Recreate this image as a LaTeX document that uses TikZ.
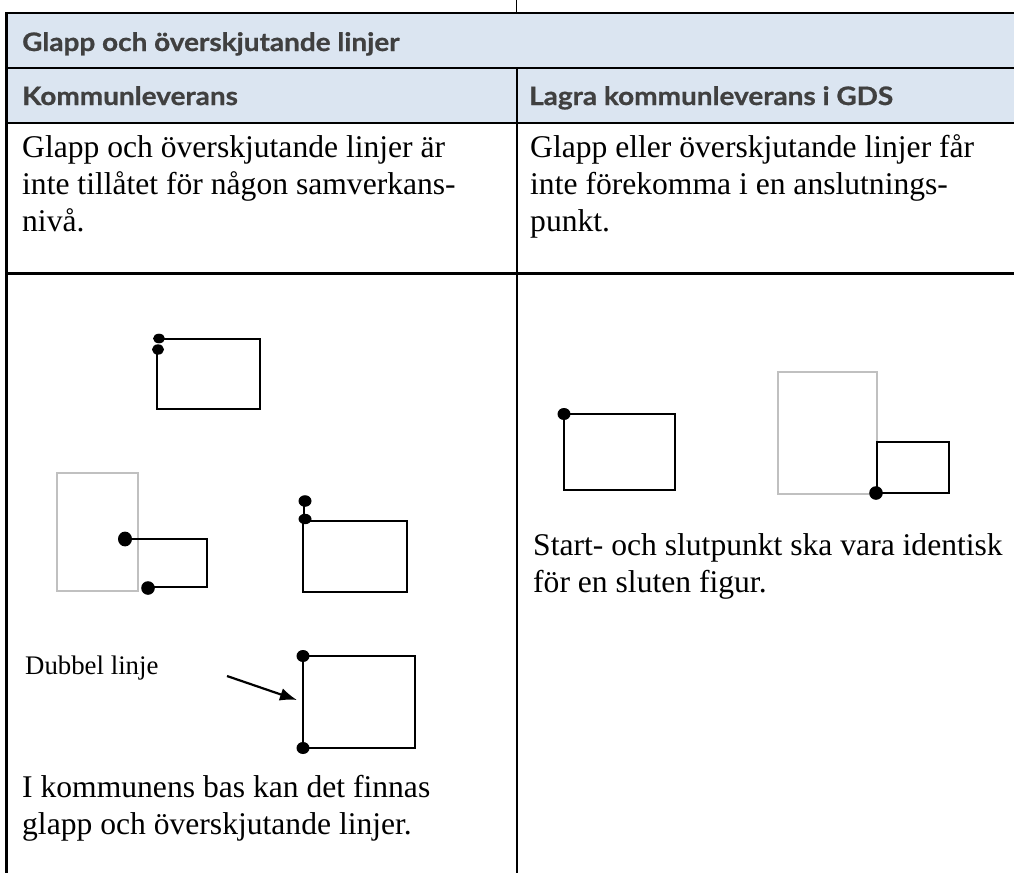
\documentclass[tikz,border=0pt]{standalone}
\usepackage{fontspec}
\setmainfont{Liberation Serif}
\newfontfamily\hdrfont{Lato}[FakeStretch=1.1,BoldFeatures={FakeBold=0.8}]
\usetikzlibrary{arrows.meta}
\definecolor{hdrfill}{HTML}{DBE5F1}
\definecolor{hdrtext}{HTML}{404040}
\definecolor{ghost}{HTML}{C0C0C0}
\begin{document}
\begin{tikzpicture}[x=1pt,y=-1pt,
  hdr/.style={anchor=base west, inner sep=0pt, text=hdrtext,
    font=\hdrfont\bfseries\fontsize{25.4}{30}\selectfont},
  body/.style={anchor=base west, inner sep=0pt,
    font=\fontsize{31.6}{37}\selectfont},
  small/.style={anchor=base west, inner sep=0pt,
    font=\fontsize{26.8}{31}\selectfont},
  thinrule/.style={line width=1.4pt},
  thickrule/.style={line width=2.6pt},
  outline/.style={line width=2.2pt, line join=miter, line cap=rect},
  ghostbox/.style={draw=ghost, line width=2.2pt},
  pointer/.style={line width=2.2pt, -{Latex[length=17pt,width=13pt]}}
]
\useasboundingbox (0,0) rectangle (1014,873);
% header fills
\fill[hdrfill] (6,13) rectangle (1014,123);
% table rules
\draw[thinrule] (516.5,0) -- (516.5,13);
\draw[thinrule] (5.5,13) -- (1014,13);
\draw[thinrule] (6,68) -- (1014,68);
\draw[thickrule] (6,123) -- (1014,123);
\draw[thickrule] (6,273.5) -- (1014,273.5);
\draw[line width=2pt] (516.5,68) -- (516.5,873);
\draw[thickrule] (6.5,12.3) -- (6.5,873);
% header texts
\node[hdr] (title) at (22,51) {Glapp och överskjutande linjer};
\node[hdr] (colA) at (22,105) {Kommunleverans};
\node[hdr] (colB) at (529,105) {Lagra kommunleverans i GDS};
% body texts row 1
\node[body] (a1) at (22,157) {Glapp och överskjutande linjer är};
\node[body] (a2) at (22,194) {inte tillåtet för någon samverkans-};
\node[body] (a3) at (22,231) {nivå.};
\node[body] (b1) at (530,157) {Glapp eller överskjutande linjer får};
\node[body] (b2) at (530,194) {inte förekomma i en anslutnings-};
\node[body] (b3) at (530,231) {punkt.};
% left figure: rect with gap at corner
\draw[outline] (159,339) -- (260,339) -- (260,409) -- (157,409) -- (157,349);
\fill (159,338.5) ellipse [x radius=6, y radius=4.8];
\fill (158,349.5) ellipse [x radius=6, y radius=5.2];
% gray box with overlapping shape
\draw[ghostbox] (57,473) rectangle (138,591);
\draw[outline] (125,539) -- (207,539) -- (207,587) -- (148,587);
\fill (125,539) ellipse [x radius=7, y radius=7.4];
\fill (148,588) ellipse [x radius=6.8, y radius=6.8];
% rect with overshoot
\draw[outline] (304,501) -- (304,521);
\draw[outline] (303,521) rectangle (407,592);
\fill (305,501) ellipse [x radius=6.5, y radius=5.8];
\fill (305,519) ellipse [x radius=6.5, y radius=5.2];
% double line
\node[small] (dbl) at (25,674) {Dubbel linje};
\coordinate (arrS) at (227,676);
\coordinate (arrE) at (297,700);
\draw[pointer] (arrS) -- (arrE);
\draw[outline] (303,656) rectangle (415,748);
\fill (303,656) ellipse [x radius=6.5, y radius=6];
\fill (303,748) ellipse [x radius=6.5, y radius=6];
\node[body] (a4) at (22,797) {I kommunens bas kan det finnas};
\node[body] (a5) at (22,834) {glapp och överskjutande linjer.};
% right figures
\draw[outline] (564,414) rectangle (675,490);
\fill (564,414) ellipse [x radius=6.5, y radius=6];
\draw[ghostbox] (778,372) rectangle (877,494);
\draw[outline] (877,442) rectangle (949,493);
\fill (876,493) ellipse [x radius=6.8, y radius=6.8];
\node[body] (b4) at (533,555) {Start- och slutpunkt ska vara identisk};
\node[body] (b5) at (533,592) {för en sluten figur.};
\end{tikzpicture}
\end{document}
